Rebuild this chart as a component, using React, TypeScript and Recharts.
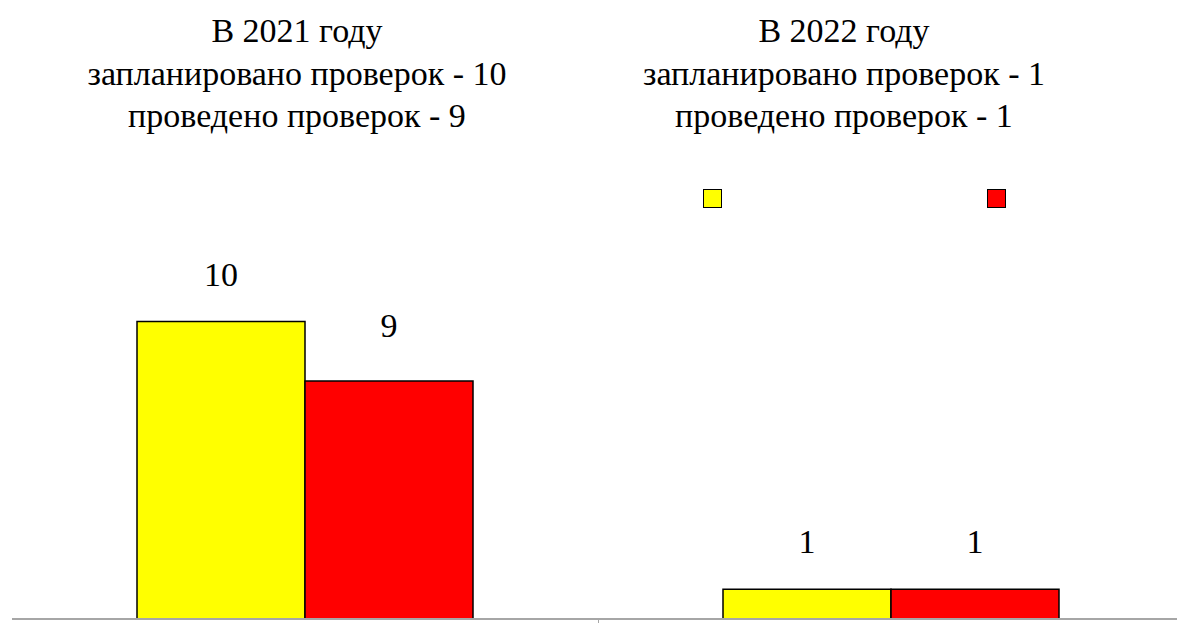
import { BarChart, Bar, XAxis, YAxis, LabelList, Legend } from "recharts";

const years = ["В 2021 году", "В 2022 году"];
const planned = [10, 1];
const done = [9, 1];
const seriesNames = ["Запланировано", "Проведено"];
const yDomains: [number, number][] = [
  [5, 13],
  [0, 16],
];

// serif is what the original uses; falls back to Liberation Sans when missing
const FONT = "Liberation Serif, DejaVu Serif, Liberation Sans, sans-serif";
const FONT_SIZE = 34;
const YELLOW = "#ffff00";
const RED = "#ff0000";
const AXIS = "#a6a6a6";

function TitleTick(props: any) {
  const { x, payload, shift } = props;
  const i = years.indexOf(payload.value);
  const lines = [
    payload.value,
    `запланировано проверок - ${planned[i]}`,
    `проведено проверок - ${done[i]}`,
  ];
  return (
    <text textAnchor="middle" style={{ fontSize: FONT_SIZE, fontFamily: FONT, fill: "#000" }}>
      {lines.map((line, k) => (
        <tspan key={k} x={x + shift} y={42 + k * 42.5}>
          {line}
        </tspan>
      ))}
    </text>
  );
}

function SquareLegend({ payload }: any) {
  return (
    <div style={{ display: "flex", gap: 265 }}>
      {(payload || []).map((entry: any) => (
        <div
          key={entry.value}
          style={{ width: 17, height: 17, background: entry.color, border: "1px solid #000" }}
        />
      ))}
    </div>
  );
}

function YearChart({ index, width, shift, legend }: { index: number; width: number; shift: number; legend?: boolean }) {
  const data = [{ year: years[index], planned: planned[index], done: done[index] }];
  const labelStyle = { fontSize: FONT_SIZE, fontFamily: FONT, fill: "#000" };

  return (
    <BarChart
      width={width}
      height={623}
      data={data}
      margin={{ top: 0, right: 0, bottom: 3, left: index === 0 ? 12 : 0 }}
      barSize={168}
      barGap={0}
    >
      <XAxis
        xAxisId="title"
        orientation="top"
        dataKey="year"
        height={143}
        axisLine={false}
        tickLine={false}
        tick={<TitleTick shift={shift} />}
      />
      <XAxis
        xAxisId="bottom"
        dataKey="year"
        height={1}
        tick={false}
        tickLine={false}
        axisLine={{ stroke: AXIS, strokeWidth: 2 }}
      />
      <YAxis hide domain={yDomains[index]} />
      {legend && (
        <Legend
          layout="horizontal"
          verticalAlign="middle"
          align="center"
          wrapperStyle={{ top: 189, left: 105, width: "auto" }}
          content={<SquareLegend />}
        />
      )}
      <Bar xAxisId="bottom" dataKey="planned" name={seriesNames[0]} fill={YELLOW} stroke="#000" strokeWidth={1.5} isAnimationActive={false}>
        <LabelList dataKey="planned" position="top" offset={36} style={labelStyle} />
      </Bar>
      <Bar xAxisId="bottom" dataKey="done" name={seriesNames[1]} fill={RED} stroke="#000" strokeWidth={1.5} isAnimationActive={false}>
        <LabelList dataKey="done" position="top" offset={index === 0 ? 44 : 36} style={labelStyle} />
      </Bar>
    </BarChart>
  );
}

export default function App() {
  return (
    <div
      style={{
        position: "absolute",
        left: 0,
        top: 0,
        width: 1177,
        height: 623,
        overflow: "hidden",
        background: "#fff",
        fontFamily: FONT,
      }}
    >
      <div style={{ position: "absolute", left: 0, top: 0 }}>
        <YearChart index={0} width={598} shift={-8} />
      </div>
      <div style={{ position: "absolute", left: 598, top: 0 }}>
        <YearChart index={1} width={586} shift={-47} legend />
      </div>
      <div style={{ position: "absolute", left: 598, top: 620, width: 1, height: 3, background: AXIS }} />
    </div>
  );
}
